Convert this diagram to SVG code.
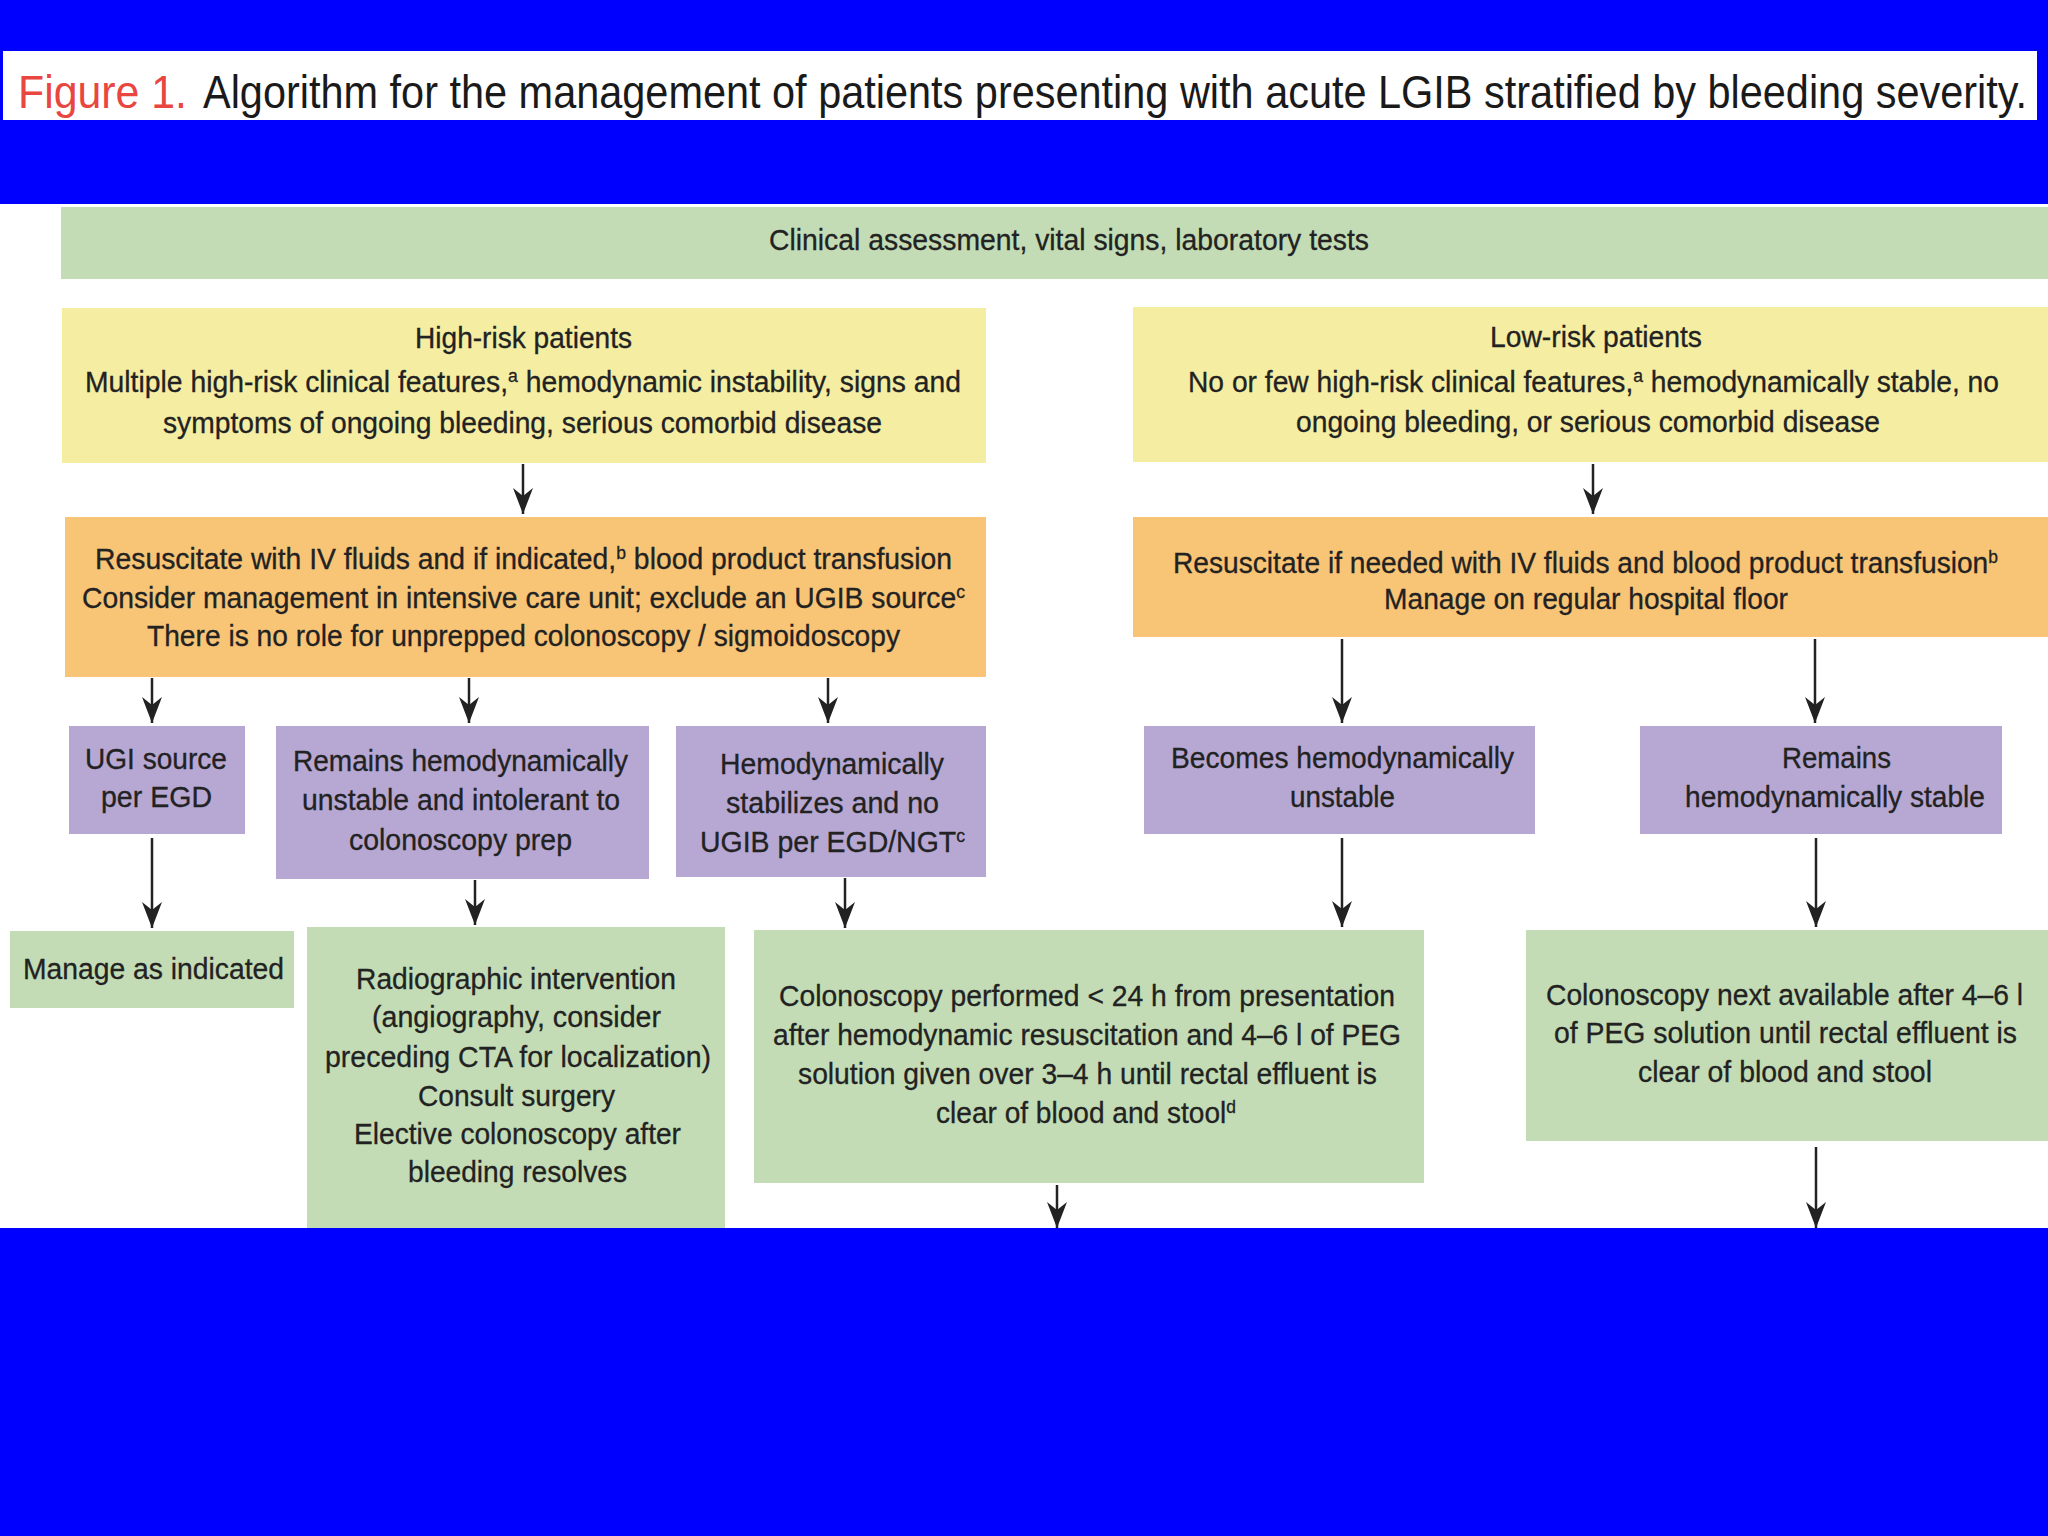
<svg xmlns="http://www.w3.org/2000/svg" width="2048" height="1536" viewBox="0 0 2048 1536">
<defs>
<style>
.t{font-family:"Liberation Sans",Arial,sans-serif;font-size:29px;fill:#222;stroke:#222;stroke-width:0.3;text-anchor:middle}
.sup{font-size:18px}
.cap{font-family:"Liberation Sans",Arial,sans-serif;font-size:46px}
.g{fill:#c3dcb5}
.y{fill:#f4eda2}
.o{fill:#f8c476}
.p{fill:#b6a7d3}
.c{stroke:#222;stroke-width:2.5;fill:none;marker-end:url(#ah)}
</style>
<marker id="ah" markerUnits="userSpaceOnUse" viewBox="-28 -12 30 24" refX="0" refY="0" markerWidth="30" markerHeight="24" orient="auto">
<path d="M0,0 L-26,-10 L-18,0 L-26,10 Z" fill="#222"/>
</marker>
</defs>
<rect x="0" y="0" width="2048" height="1536" fill="#0000ff"/>
<rect x="3" y="51" width="2034" height="69" fill="#ffffff"/>
<text class="cap" x="18" y="108" fill="#e8463f" textLength="169" lengthAdjust="spacingAndGlyphs">Figure 1.</text>
<text class="cap" x="203" y="108" fill="#1a1a1a" textLength="1824" lengthAdjust="spacingAndGlyphs">Algorithm for the management of patients presenting with acute LGIB stratified by bleeding severity.</text>
<rect x="0" y="204" width="2048" height="1024" fill="#ffffff"/>

<g id="header">
<rect class="g" x="61" y="207" width="1987" height="72"/>
<text class="t" x="1069" y="250" textLength="600" lengthAdjust="spacingAndGlyphs">Clinical assessment, vital signs, laboratory tests</text>
</g>

<g id="high-risk">
<rect class="y" x="62" y="308" width="924" height="155"/>
<text class="t" x="523.5" y="348" textLength="217" lengthAdjust="spacingAndGlyphs">High-risk patients</text>
<text class="t" x="523" y="392" textLength="876" lengthAdjust="spacingAndGlyphs">Multiple high-risk clinical features,<tspan class="sup" dy="-10">a</tspan><tspan dy="10"> hemodynamic instability, signs and</tspan></text>
<text class="t" x="522.5" y="433" textLength="719" lengthAdjust="spacingAndGlyphs">symptoms of ongoing bleeding, serious comorbid disease</text>
</g>

<g id="low-risk">
<rect class="y" x="1133" y="307" width="915" height="155"/>
<text class="t" x="1596" y="347" textLength="212" lengthAdjust="spacingAndGlyphs">Low-risk patients</text>
<text class="t" x="1593.5" y="392" textLength="811" lengthAdjust="spacingAndGlyphs">No or few high-risk clinical features,<tspan class="sup" dy="-10">a</tspan><tspan dy="10"> hemodynamically stable, no</tspan></text>
<text class="t" x="1588" y="432" textLength="584" lengthAdjust="spacingAndGlyphs">ongoing bleeding, or serious comorbid disease</text>
</g>

<g id="high-resus">
<rect class="o" x="65" y="517" width="921" height="160"/>
<text class="t" x="523.5" y="569" textLength="857" lengthAdjust="spacingAndGlyphs">Resuscitate with IV fluids and if indicated,<tspan class="sup" dy="-10">b</tspan><tspan dy="10"> blood product transfusion</tspan></text>
<text class="t" x="523.5" y="608" textLength="883" lengthAdjust="spacingAndGlyphs">Consider management in intensive care unit; exclude an UGIB source<tspan class="sup" dy="-10">c</tspan></text>
<text class="t" x="523.5" y="646" textLength="753" lengthAdjust="spacingAndGlyphs">There is no role for unprepped colonoscopy / sigmoidoscopy</text>
</g>

<g id="low-resus">
<rect class="o" x="1133" y="517" width="915" height="120"/>
<text class="t" x="1585.5" y="573" textLength="825" lengthAdjust="spacingAndGlyphs">Resuscitate if needed with IV fluids and blood product transfusion<tspan class="sup" dy="-10">b</tspan></text>
<text class="t" x="1586" y="609" textLength="404" lengthAdjust="spacingAndGlyphs">Manage on regular hospital floor</text>
</g>

<g id="ugi-source">
<rect class="p" x="69" y="726" width="176" height="108"/>
<text class="t" x="156" y="769" textLength="142" lengthAdjust="spacingAndGlyphs">UGI source</text>
<text class="t" x="156.5" y="807" textLength="111" lengthAdjust="spacingAndGlyphs">per EGD</text>
</g>

<g id="remains-unstable">
<rect class="p" x="276" y="726" width="373" height="153"/>
<text class="t" x="460.5" y="771" textLength="335" lengthAdjust="spacingAndGlyphs">Remains hemodynamically</text>
<text class="t" x="461" y="810" textLength="318" lengthAdjust="spacingAndGlyphs">unstable and intolerant to</text>
<text class="t" x="460.5" y="850" textLength="223" lengthAdjust="spacingAndGlyphs">colonoscopy prep</text>
</g>

<g id="stabilizes">
<rect class="p" x="676" y="726" width="310" height="151"/>
<text class="t" x="832" y="774" textLength="224" lengthAdjust="spacingAndGlyphs">Hemodynamically</text>
<text class="t" x="832.5" y="813" textLength="213" lengthAdjust="spacingAndGlyphs">stabilizes and no</text>
<text class="t" x="832.5" y="852" textLength="265" lengthAdjust="spacingAndGlyphs">UGIB per EGD/NGT<tspan class="sup" dy="-10">c</tspan></text>
</g>

<g id="becomes-unstable">
<rect class="p" x="1144" y="726" width="391" height="108"/>
<text class="t" x="1342.5" y="768" textLength="343" lengthAdjust="spacingAndGlyphs">Becomes hemodynamically</text>
<text class="t" x="1342.5" y="807" textLength="105" lengthAdjust="spacingAndGlyphs">unstable</text>
</g>

<g id="remains-stable">
<rect class="p" x="1640" y="726" width="362" height="108"/>
<text class="t" x="1836.5" y="768" textLength="109" lengthAdjust="spacingAndGlyphs">Remains</text>
<text class="t" x="1835" y="807" textLength="300" lengthAdjust="spacingAndGlyphs">hemodynamically stable</text>
</g>

<g id="manage-indicated">
<rect class="g" x="10" y="931" width="284" height="77"/>
<text class="t" x="153.5" y="979" textLength="261" lengthAdjust="spacingAndGlyphs">Manage as indicated</text>
</g>

<g id="radiographic">
<rect class="g" x="307" y="927" width="418" height="301"/>
<text class="t" x="516" y="989" textLength="320" lengthAdjust="spacingAndGlyphs">Radiographic intervention</text>
<text class="t" x="516.5" y="1027" textLength="289" lengthAdjust="spacingAndGlyphs">(angiography, consider</text>
<text class="t" x="518" y="1067" textLength="386" lengthAdjust="spacingAndGlyphs">preceding CTA for localization)</text>
<text class="t" x="516.5" y="1106" textLength="197" lengthAdjust="spacingAndGlyphs">Consult surgery</text>
<text class="t" x="517.5" y="1144" textLength="327" lengthAdjust="spacingAndGlyphs">Elective colonoscopy after</text>
<text class="t" x="517.5" y="1182" textLength="219" lengthAdjust="spacingAndGlyphs">bleeding resolves</text>
</g>

<g id="colonoscopy-24h">
<rect class="g" x="754" y="930" width="670" height="253"/>
<text class="t" x="1087" y="1006" textLength="616" lengthAdjust="spacingAndGlyphs">Colonoscopy performed &lt; 24 h from presentation</text>
<text class="t" x="1087" y="1045" textLength="628" lengthAdjust="spacingAndGlyphs">after hemodynamic resuscitation and 4–6 l of PEG</text>
<text class="t" x="1087.5" y="1084" textLength="579" lengthAdjust="spacingAndGlyphs">solution given over 3–4 h until rectal effluent is</text>
<text class="t" x="1086" y="1123" textLength="300" lengthAdjust="spacingAndGlyphs">clear of blood and stool<tspan class="sup" dy="-10">d</tspan></text>
</g>

<g id="colonoscopy-next">
<rect class="g" x="1526" y="930" width="522" height="211"/>
<text class="t" x="1784.5" y="1005" textLength="477" lengthAdjust="spacingAndGlyphs">Colonoscopy next available after 4–6 l</text>
<text class="t" x="1785.5" y="1043" textLength="463" lengthAdjust="spacingAndGlyphs">of PEG solution until rectal effluent is</text>
<text class="t" x="1785" y="1082" textLength="294" lengthAdjust="spacingAndGlyphs">clear of blood and stool</text>
</g>

<g id="connectors">
<line class="c" x1="523" y1="464" x2="523" y2="514"/>
<line class="c" x1="1593" y1="464" x2="1593" y2="514"/>
<line class="c" x1="152" y1="678" x2="152" y2="723"/>
<line class="c" x1="469" y1="678" x2="469" y2="723"/>
<line class="c" x1="828" y1="678" x2="828" y2="723"/>
<line class="c" x1="1342" y1="639" x2="1342" y2="723"/>
<line class="c" x1="1815" y1="639" x2="1815" y2="723"/>
<line class="c" x1="152" y1="838" x2="152" y2="928"/>
<line class="c" x1="475" y1="880" x2="475" y2="925"/>
<line class="c" x1="845" y1="878" x2="845" y2="928"/>
<line class="c" x1="1342" y1="838" x2="1342" y2="927"/>
<line class="c" x1="1816" y1="838" x2="1816" y2="927"/>
<line class="c" x1="1057" y1="1185" x2="1057" y2="1228"/>
<line class="c" x1="1816" y1="1147" x2="1816" y2="1228"/>
</g>

<rect x="0" y="1228" width="2048" height="308" fill="#0000ff"/>
</svg>
